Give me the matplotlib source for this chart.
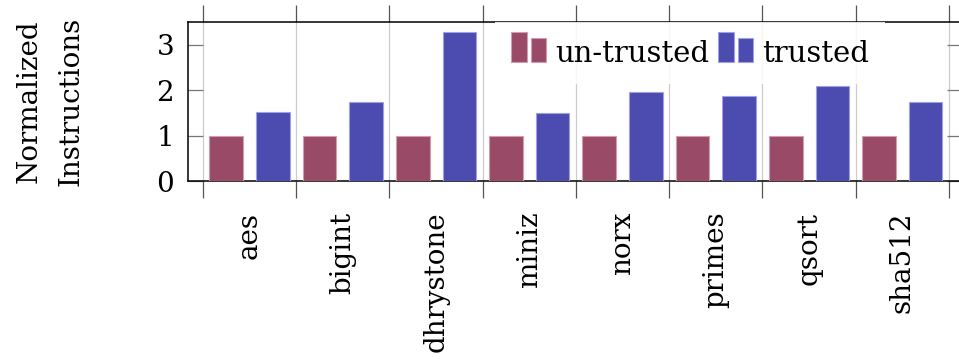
import matplotlib
matplotlib.use("Agg")
import matplotlib.pyplot as plt
import numpy as np
from matplotlib.patches import Rectangle
from matplotlib.legend_handler import HandlerBase

# benchmark data: instruction counts normalized to the un-trusted build
benchmarks = ["aes", "bigint", "dhrystone", "miniz", "norx", "primes", "qsort", "sha512"]
untrusted = [1.0, 1.0, 1.0, 1.0, 1.0, 1.0, 1.0, 1.0]
trusted = [1.52, 1.74, 3.27, 1.49, 1.96, 1.87, 2.10, 1.74]
y_ticks = [0, 1, 2, 3]

RED = "#994a66"
RED_EDGE = "#d49ab0"
BLUE = "#4b4bb0"
BLUE_EDGE = "#a0a0e6"

plt.rcParams["font.family"] = ["DejaVu Serif"]


class TwoBarHandler(HandlerBase):
    """Legend key drawn as two small bars, like a bar-chart legend image."""

    def create_artists(self, legend, orig_handle, xdescent, ydescent,
                       width, height, fontsize, trans):
        fc = orig_handle.get_facecolor()
        ec = orig_handle.get_edgecolor()
        w = width * 0.44
        x0 = -xdescent
        r1 = Rectangle((x0, 0), w, 1.03 * fontsize, facecolor=fc,
                       edgecolor=ec, linewidth=0.8, transform=trans)
        r2 = Rectangle((x0 + width - w, 0), w, 0.82 * fontsize, facecolor=fc,
                       edgecolor=ec, linewidth=0.8, transform=trans)
        return [r1, r2]


fig = plt.figure(figsize=(9.59, 3.59), dpi=100)
ax = fig.add_axes([188 / 959, 178 / 359, 774 / 959, 159 / 359])

x = np.arange(len(benchmarks))
bw = 0.36
b1 = ax.bar(x - 0.25, untrusted, bw, color=RED, edgecolor=RED_EDGE,
            linewidth=0.8, zorder=3, label="un-trusted")
b2 = ax.bar(x + 0.25, trusted, bw, color=BLUE, edgecolor=BLUE_EDGE,
            linewidth=0.8, zorder=3, label="trusted")

ax.set_xlim(-0.66, 7.64)
ax.set_ylim(0, 3.5)

# group separators: major ticks at the boundaries, labels on minor ticks
bounds = np.arange(len(benchmarks) + 1) - 0.5
ax.set_xticks(bounds)
ax.set_xticklabels([])
ax.set_xticks(x, minor=True)
ax.set_xticklabels(benchmarks, minor=True, rotation=90, fontsize=20)
ax.tick_params(axis="x", which="major", direction="out", length=12,
               width=0.9, color="#555555", top=True, bottom=True)
ax.tick_params(axis="x", which="minor", length=0, pad=22)
ax.grid(axis="x", which="major", color="#cccccc", linewidth=0.9, zorder=0)
ax.set_axisbelow(True)

ax.set_yticks(y_ticks)
ax.tick_params(axis="y", direction="in", length=10.8, width=0.9,
               color="#777777", left=True, right=True, labelsize=20, pad=10)

for s in ax.spines.values():
    s.set_linewidth(1.1)
    s.set_color("black")

h1, h2 = b1.patches[0], b2.patches[0]
leg = ax.legend(handles=[h1, h2], labels=["un-trusted", "trusted"],
                handler_map={h1: TwoBarHandler(), h2: TwoBarHandler()},
                loc="upper left", bbox_to_anchor=(0.397, 1.0),
                borderaxespad=0, ncol=2, fontsize=21, frameon=True,
                fancybox=False, framealpha=0.85, edgecolor="none",
                handlelength=1.2, handleheight=1.1, handletextpad=0.31,
                columnspacing=0.31, borderpad=0.55)
leg.get_frame().set_linewidth(0)

fig.text(50 / 959, 1 - 101 / 359, "Normalized\nInstructions", rotation=90,
         ha="center", va="center", multialignment="center", fontsize=20,
         linespacing=1.7)

fig.savefig("out.png", dpi=100)
